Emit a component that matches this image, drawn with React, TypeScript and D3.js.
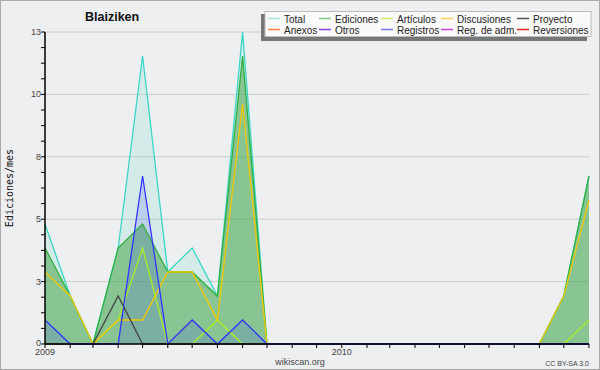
import React from "react";
import * as d3 from "d3";

const months: string[] = [
  "2009-01", "2009-02", "2009-03", "2009-04", "2009-05", "2009-06", "2009-07", "2009-08",
  "2009-09", "2009-10", "2009-11", "2009-12", "2010-01", "2010-02", "2010-03", "2010-04",
  "2010-05", "2010-06", "2010-07", "2010-08", "2010-09", "2010-10", "2010-11",
];
const total: number[] = [5, 2, 0, 4, 12, 3, 4, 2, 13, 0, 0, 0, 0, 0, 0, 0, 0, 0, 0, 0, 0, 2, 7];
const ediciones: number[] = [4, 2, 0, 4, 5, 3, 3, 2, 12, 0, 0, 0, 0, 0, 0, 0, 0, 0, 0, 0, 0, 2, 7];
const articulos: number[] = [0, 0, 0, 1, 4, 0, 0, 1, 0, 0, 0, 0, 0, 0, 0, 0, 0, 0, 0, 0, 0, 0, 1];
const discusiones: number[] = [3, 2, 0, 1, 1, 3, 3, 1, 10, 0, 0, 0, 0, 0, 0, 0, 0, 0, 0, 0, 0, 2, 6];
const proyecto: number[] = [0, 0, 0, 2, 0, 0, 0, 0, 0, 0, 0, 0, 0, 0, 0, 0, 0, 0, 0, 0, 0, 0, 0];
const registros: number[] = [1, 0, 0, 0, 7, 0, 1, 0, 1, 0, 0, 0, 0, 0, 0, 0, 0, 0, 0, 0, 0, 0, 0];

const yMax = 13;
const yearLabels: string[] = ["2009", "2010"];

const legendRow1: { label: string; color: string }[] = [
  { label: "Total", color: "#a6e6de" },
  { label: "Ediciones", color: "#80c884" },
  { label: "Artículos", color: "#c8ee66" },
  { label: "Discusiones", color: "#ffcc55" },
  { label: "Proyecto", color: "#555555" },
];
const legendRow2: { label: string; color: string }[] = [
  { label: "Anexos", color: "#ff7f44" },
  { label: "Otros", color: "#8844dd" },
  { label: "Registros", color: "#7777ee" },
  { label: "Reg. de adm.", color: "#cc44dd" },
  { label: "Reversiones", color: "#ee2222" },
];
const legendColX = [268, 319, 381, 441, 517];

type Series = { values: number[]; stroke: string; fill?: string; fillOpacity?: number };

const seriesList: Series[] = [
  { values: total, stroke: "#3ad6c6", fill: "#40d8c8", fillOpacity: 0.15 },
  { values: ediciones, stroke: "#30b040", fill: "#3ca03c", fillOpacity: 0.5 },
  { values: articulos, stroke: "#aaee22" },
  { values: discusiones, stroke: "#f2c800" },
  { values: proyecto, stroke: "#444444" },
  { values: registros, stroke: "#3434ff", fill: "#3c3cff", fillOpacity: 0.16 },
];

export default function App() {
  const W = 600, H = 370;
  const left = 45, right = 589, top = 32, bottom = 344;
  const parse = d3.timeParse("%Y-%m");
  const dates = months.map((m) => parse(m) as Date);
  const x = d3.scaleTime().domain([dates[0], dates[dates.length - 1]]).range([left, right]);
  const y = d3.scaleLinear().domain([0, yMax]).range([bottom, top]);

  const majorTicks = d3.range(0, 6).map((i) => (i * yMax) / 5);
  const minorTicks = d3.range(0, 21).map((i) => (i * yMax) / 20);
  const monthTicks = dates;

  const line = d3.line<number>().x((_, i) => x(dates[i])).y((v) => y(v));
  const area = d3.area<number>().x((_, i) => x(dates[i])).y0(y(0)).y1((v) => y(v));

  const font = "'Liberation Sans', Arial, sans-serif";

  return (
    <svg width={W} height={H} style={{ position: "absolute", left: 0, top: 0 }} fontFamily={font}>
      <rect x={0.5} y={0.5} width={W - 1} height={H - 1} fill="#eeeff0" stroke="#aaaaaa" />
      {majorTicks.map((t, i) => (
        <line key={"g" + i} x1={left} x2={right} y1={y(t)} y2={y(t)} stroke="#cccccc" strokeWidth={1} />
      ))}
      {seriesList.map((s, i) =>
        s.fill ? (
          <path key={"a" + i} d={area(s.values) || ""} fill={s.fill} fillOpacity={s.fillOpacity} stroke="none" />
        ) : null
      )}
      {seriesList.map((s, i) => (
        <path key={"l" + i} d={line(s.values) || ""} fill="none" stroke={s.stroke} strokeWidth={1.3} strokeLinejoin="miter" />
      ))}
      {/* y axis */}
      <line x1={left} x2={left} y1={top} y2={bottom} stroke="#000" strokeWidth={1.5} />
      {minorTicks.map((t, i) => (
        <line key={"mt" + i} x1={left - 4} x2={left} y1={y(t)} y2={y(t)} stroke="#000" strokeWidth={1} />
      ))}
      {majorTicks.map((t, i) => (
        <text key={"yl" + i} x={left - 4} y={y(t) + (i === 0 ? 2 : 3)} fontSize={9} fill="#444" textAnchor="end">
          {Math.round(t)}
        </text>
      ))}
      {/* x axis */}
      <line x1={left} x2={right} y1={bottom} y2={bottom} stroke="#000" strokeWidth={1.5} />
      {monthTicks.map((d, i) => (
        <line key={"xt" + i} x1={x(d)} x2={x(d)} y1={bottom} y2={bottom + 4} stroke="#000" strokeWidth={1} />
      ))}
      {yearLabels.map((yl) => (
        <text key={yl} x={x(parse(yl + "-01") as Date)} y={355} fontSize={9} fill="#444" textAnchor="middle">
          {yl}
        </text>
      ))}
      <text x={300} y={365} fontSize={9} fill="#444" textAnchor="middle">wikiscan.org</text>
      <text x={589} y={366} fontSize={7} fill="#444" textAnchor="end">CC BY-SA 3.0</text>
      <text x={85} y={21} fontSize={12.5} fontWeight="bold" fill="#111">Blaiziken</text>
      <text
        transform="translate(13,188) rotate(-90)"
        fontSize={10}
        fontFamily="'DejaVu Sans Mono', monospace"
        fill="#111"
        textAnchor="middle"
      >
        Ediciones/mes
      </text>
      {/* legend */}
      <rect x={261} y={14} width={326} height={27} fill="#777777" />
      <rect x={265} y={11.5} width={326} height={25} fill="#fafafa" stroke="#bbbbbb" strokeWidth={1} />
      {[legendRow1, legendRow2].map((row, r) =>
        row.map((it, c) => (
          <g key={r + "-" + c}>
            <line
              x1={legendColX[c]}
              x2={legendColX[c] + 12}
              y1={18.5 + r * 11}
              y2={18.5 + r * 11}
              stroke={it.color}
              strokeWidth={1.5}
            />
            <text x={legendColX[c] + 16} y={22.5 + r * 11} fontSize={10} fill="#222">
              {it.label}
            </text>
          </g>
        ))
      )}
    </svg>
  );
}
